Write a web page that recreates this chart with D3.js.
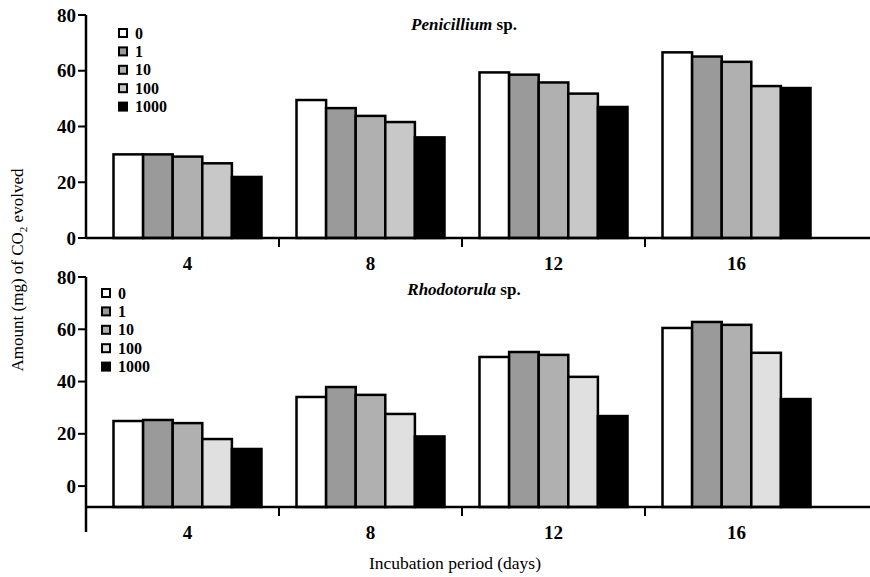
<!DOCTYPE html>
<html>
<head>
<meta charset="utf-8">
<script src="https://cdn.jsdelivr.net/npm/d3@7"></script>
<style>
  body { margin: 0; background: #fff; }
  text { font-family: "Liberation Serif", "Times New Roman", serif; fill: #000; }
</style>
</head>
<body>
<script>
(function() {
  var width = 870, height = 577;

  var days = ["4", "8", "12", "16"];
  var doses = ["0", "1", "10", "100", "1000"];
  var yTicks = [0, 20, 40, 60, 80];

  // Penicillium sp., one row per day, one value per dose
  var penicillium = [
    [30.0, 30.0, 29.2, 26.8, 21.9],
    [49.5, 46.6, 43.8, 41.6, 36.1],
    [59.4, 58.6, 55.8, 51.8, 47.0],
    [66.6, 65.1, 63.2, 54.5, 53.8]
  ];

  // Rhodotorula sp.
  var rhodotorula = [
    [24.9, 25.3, 24.1, 18.0, 14.2],
    [34.1, 37.9, 34.9, 27.6, 19.0],
    [49.4, 51.3, 50.2, 41.8, 26.8],
    [60.5, 62.8, 61.7, 51.0, 33.3]
  ];

  var panels = [
    {name: "Penicillium", data: penicillium, ymin: 0, top: 15, axisY: 238, yLineEnd: 238,
     colors: ["#ffffff", "#9a9a9a", "#b0b0b0", "#c8c8c8", "#000000"],
     legendX: 118, legendY: 33, titleY: 30},
    {name: "Rhodotorula", data: rhodotorula, ymin: -8, top: 277, axisY: 507, yLineEnd: 532,
     colors: ["#ffffff", "#9a9a9a", "#b0b0b0", "#e0e0e0", "#000000"],
     legendX: 101, legendY: 293, titleY: 295}
  ];

  var axisX = 86;

  var svg = d3.select("body").append("svg")
    .attr("width", width)
    .attr("height", height);

  var x = d3.scaleBand().domain(days).range([96, 828]).padding(0);
  var groupW = 148;

  panels.forEach(function(p) {
    var y = d3.scaleLinear().domain([p.ymin, 80]).range([p.axisY, p.top]);
    var inner = d3.scaleBand().domain(doses).range([0, groupW]).padding(0);
    var g = svg.append("g");

    // bars
    days.forEach(function(day, i) {
      var x0 = x(day) + x.bandwidth() / 2 - groupW / 2;
      g.selectAll(null).data(p.data[i]).enter().append("rect")
        .attr("x", function(d, j) { return x0 + inner(doses[j]); })
        .attr("y", function(d) { return y(d); })
        .attr("width", inner.bandwidth())
        .attr("height", function(d) { return y(p.ymin) - y(d); })
        .attr("fill", function(d, j) { return p.colors[j]; })
        .attr("stroke", "#000")
        .attr("stroke-width", 2.5);
    });

    // y axis
    g.append("line")
      .attr("x1", axisX).attr("x2", axisX)
      .attr("y1", p.top).attr("y2", p.yLineEnd)
      .attr("stroke", "#000").attr("stroke-width", 2.5);
    g.selectAll(null).data(yTicks).enter().append("line")
      .attr("x1", axisX - 8).attr("x2", axisX)
      .attr("y1", function(d) { return y(d); })
      .attr("y2", function(d) { return y(d); })
      .attr("stroke", "#000").attr("stroke-width", 2);
    g.selectAll(null).data(yTicks).enter().append("text")
      .attr("x", axisX - 10)
      .attr("y", function(d) { return y(d); })
      .attr("dy", "0.35em")
      .attr("text-anchor", "end")
      .style("font-size", "19px")
      .style("font-weight", "bold")
      .text(function(d) { return d; });

    // x axis
    g.append("line")
      .attr("x1", axisX).attr("x2", width)
      .attr("y1", p.axisY).attr("y2", p.axisY)
      .attr("stroke", "#000").attr("stroke-width", 2.5);
    g.selectAll(null).data(days.slice(1)).enter().append("line")
      .attr("x1", function(d) { return x(d); })
      .attr("x2", function(d) { return x(d); })
      .attr("y1", p.axisY).attr("y2", p.axisY + 9)
      .attr("stroke", "#000").attr("stroke-width", 2);
    g.selectAll(null).data(days).enter().append("text")
      .attr("x", function(d) { return x(d) + x.bandwidth() / 2; })
      .attr("y", p.axisY + 32)
      .attr("text-anchor", "middle")
      .style("font-size", "19px")
      .style("font-weight", "bold")
      .text(function(d) { return d; });

    // title
    var t = g.append("text")
      .attr("x", 464).attr("y", p.titleY)
      .attr("text-anchor", "middle")
      .style("font-size", "17px")
      .style("font-weight", "bold");
    t.append("tspan").style("font-style", "italic").text(p.name);
    t.append("tspan").text(" sp.");

    // legend
    var lg = g.selectAll(null).data(doses).enter().append("g")
      .attr("transform", function(d, i) {
        return "translate(" + p.legendX + "," + (p.legendY + i * 18.4) + ")";
      });
    lg.append("rect")
      .attr("x", 1).attr("y", -4)
      .attr("width", 8).attr("height", 8)
      .attr("fill", function(d, i) { return p.colors[i]; })
      .attr("stroke", "#000").attr("stroke-width", 2);
    lg.append("text")
      .attr("x", 17).attr("y", 0).attr("dy", "0.35em")
      .style("font-size", "16px")
      .style("font-weight", "bold")
      .text(function(d) { return d; });
  });

  // axis titles
  var yt = svg.append("text")
    .attr("transform", "translate(23,270) rotate(-90)")
    .attr("text-anchor", "middle")
    .style("font-size", "17px");
  yt.append("tspan").text("Amount (mg) of CO");
  yt.append("tspan").attr("dy", 4).style("font-size", "11px").text("2");
  yt.append("tspan").attr("dy", -4).text("  evolved");

  svg.append("text")
    .attr("x", 455).attr("y", 569)
    .attr("text-anchor", "middle")
    .style("font-size", "17.5px")
    .text("Incubation period (days)");
}).call(this);
</script>
</body>
</html>
